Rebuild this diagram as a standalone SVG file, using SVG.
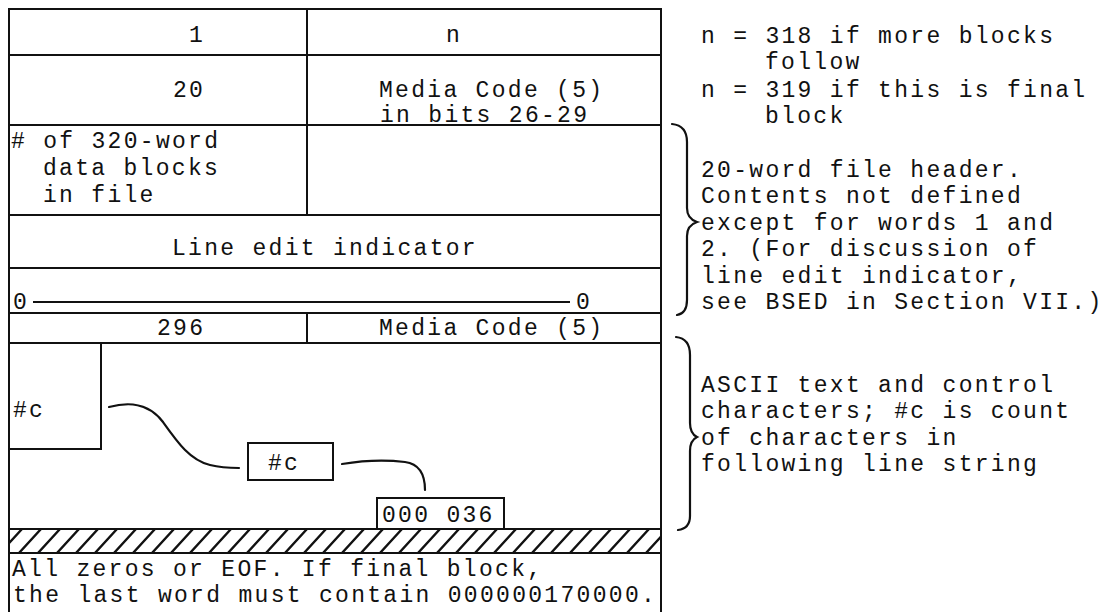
<svg xmlns="http://www.w3.org/2000/svg" width="1104" height="612" viewBox="0 0 1104 612">
<style>
  text { font-family: "Liberation Mono", "DejaVu Sans Mono", monospace; font-size: 23px; letter-spacing: 2.3px; fill: #111; }
  .ln { stroke: #111; stroke-width: 2; fill: none; }
  .box { stroke: #111; stroke-width: 2; fill: #fff; }
  .cv { stroke: #111; stroke-width: 2.2; fill: none; stroke-linecap: round; }
</style>
<defs>
  <pattern id="hatch" patternUnits="userSpaceOnUse" x="0" y="529" width="19" height="24">
    <path d="M-19,24 L3,0 M0,24 L22,0 M19,24 L41,0" stroke="#111" stroke-width="2.4" fill="none"/>
  </pattern>
</defs>
<rect width="1104" height="612" fill="#fff"/>

<g id="table-frame">
  <path class="ln" d="M9,612 L9,9 L661,9 L661,612"/>
  <path class="ln" d="M9,55 H661 M9,125 H661 M9,215 H661 M9,268 H661 M9,313 H661 M9,343 H661 M9,553 H661"/>
  <path class="ln" d="M307,9 V215 M307,313 V343"/>
</g>

<g id="hatch-band">
  <rect x="9" y="529" width="652" height="24" fill="url(#hatch)"/>
  <path class="ln" d="M9,529 H661"/>
</g>

<g id="word1-left"><text x="189" y="42">1</text></g>
<g id="word1-right"><text x="446" y="42">n</text></g>
<g id="word2-left"><text x="173" y="97">20</text></g>
<g id="word2-right">
  <text x="379" y="97">Media Code (5)</text>
  <text x="380" y="122">in bits 26-29</text>
</g>
<g id="word3-left">
  <text x="11" y="148"># of 320-word</text>
  <text x="43" y="175">data blocks</text>
  <text x="43" y="202">in file</text>
</g>
<g id="line-edit"><text x="172" y="255">Line edit indicator</text></g>
<g id="zero-row">
  <text x="13" y="309">0</text>
  <path class="ln" d="M33,302 H570"/>
  <text x="576" y="309">0</text>
</g>
<g id="block-left"><text x="157" y="335">296</text></g>
<g id="block-right"><text x="379" y="335">Media Code (5)</text></g>

<g id="count-box-1">
  <path class="ln" d="M101,343 V449 H9"/>
  <text x="13" y="417">#c</text>
</g>
<g id="count-box-2">
  <rect class="box" x="248" y="443" width="85" height="37"/>
  <text x="268" y="470">#c</text>
</g>
<g id="terminator-box">
  <rect class="box" x="377" y="498" width="127" height="31"/>
  <text x="382" y="522">000 036</text>
</g>

<g id="connectors">
  <path class="cv" d="M109,407 C128,402 148,402 163,422 C178,443 190,460 210,465 C222,468 232,468 239,468"/>
  <path class="cv" d="M342,464 C360,461 380,459 405,462 C420,464 425,475 425,490"/>
</g>

<g id="eof-area">
  <text x="12" y="576">All zeros or EOF. If final block,</text>
  <text x="13" y="602">the last word must contain 000000170000.</text>
</g>

<g id="note-n">
  <text x="701" y="43">n = 318 if more blocks</text>
  <text x="765" y="69">follow</text>
  <text x="701" y="97">n = 319 if this is final</text>
  <text x="765" y="123">block</text>
</g>

<g id="note-header">
  <path class="cv" d="M672,124 C682,125 687,131 687,142 L687,208 C687,216 691,220 697,222 C691,224 687,228 687,236 L687,300 C687,310 683,314 677,315"/>
  <text x="701" y="177">20-word file header.</text>
  <text x="701" y="203">Contents not defined</text>
  <text x="701" y="230">except for words 1 and</text>
  <text x="701" y="256">2. (For discussion of</text>
  <text x="701" y="283">line edit indicator,</text>
  <text x="701" y="309">see BSED in Section VII.)</text>
</g>

<g id="note-ascii">
  <path class="cv" d="M676,337 C686,338 690,344 690,355 L690,423 C690,431 693,435 697,437 C693,439 690,443 690,451 L690,516 C690,525 686,529 678,530"/>
  <text x="701" y="392">ASCII text and control</text>
  <text x="701" y="418">characters; #c is count</text>
  <text x="701" y="445">of characters in</text>
  <text x="701" y="471">following line string</text>
</g>
</svg>
